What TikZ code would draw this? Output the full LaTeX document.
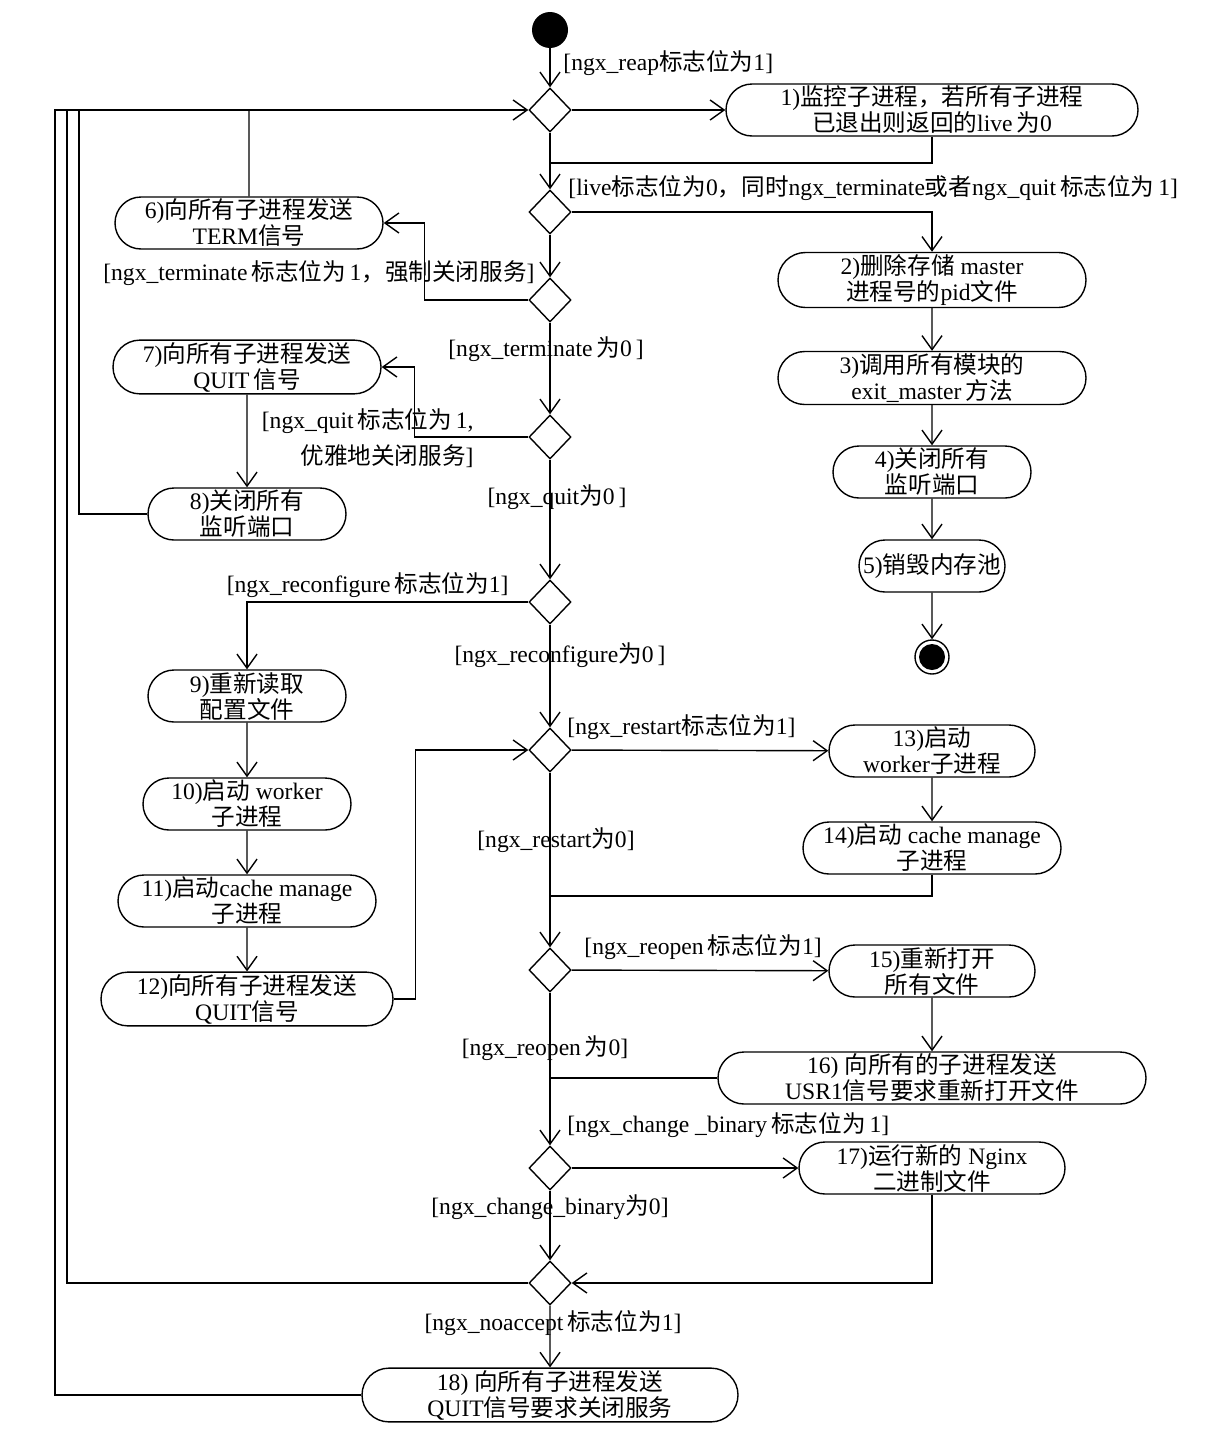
\documentclass[tikz,border=0pt]{standalone}
\usepackage{fontspec}
\setmainfont{Liberation Serif}
\newfontfamily\zhfont{Noto Sans CJK SC}
\newcommand{\zh}[1]{{\zhfont #1}}
\usetikzlibrary{arrows.meta,shapes.geometric,shapes.misc}

\begin{document}
\begin{tikzpicture}[
  x=0.5pt, y=-0.5pt,
  font=\fontsize{11.8}{13}\selectfont,
  >={Straight Barb[length=7pt,width=10pt]},
  act/.style={draw, rounded rectangle, minimum height=26pt, align=center, inner sep=1pt, line width=.7pt},
  choice/.style={draw, diamond, minimum width=21pt, minimum height=22pt, inner sep=0pt, line width=.7pt},
  startdot/.style={circle, fill=black, minimum size=18pt, inner sep=0pt},
  stopring/.style={circle, draw, line width=.7pt, minimum size=17pt, inner sep=0pt},
  flow/.style={->, line width=.7pt},
  link/.style={line width=.7pt},
  guard/.style={inner sep=1pt}
]
\useasboundingbox (0,0) rectangle (1214,1440);

% spine of decisions
\node[startdot] (start) at (550,30) {};
\foreach \n/\y in {d1/110,d2/212,d3/300,d4/437,d5/602,d6/750,d7/970,d8/1168,d9/1283}
  \node[choice] (\n) at (550,\y) {};

% right column
\node[act, minimum width=208pt] (n1) at (932,110) {1)\zh{监控子进程，若所有子进程}\\\zh{已退出则返回的}live\,\zh{为}0};
\node[act, minimum width=156pt] (n2) at (932,280) {2)\zh{删除存储} master\\\zh{进程号的}pid\zh{文件}};
\node[act, minimum width=156pt] (n3) at (932,378) {3)\zh{调用所有模块的}\\exit\_master\,\zh{方法}};
\node[act, minimum width=101pt] (n4) at (932,472) {4)\zh{关闭所有}\\\zh{监听端口}};
\node[act, minimum width=75pt] (n5) at (932,566) {5)\zh{销毁内存池}};
\node[stopring] (stop) at (932,657) {};
\node[startdot, minimum size=13pt] (stopdot) at (stop) {};
\node[act, minimum width=105pt] (n13) at (932,751) {13)\zh{启动}\\worker\zh{子进程}};
\node[act, minimum width=131pt] (n14) at (932,848) {14)\zh{启动} cache manage\\\zh{子进程}};
\node[act, minimum width=105pt] (n15) at (932,971) {15)\zh{重新打开}\\\zh{所有文件}};
\node[act, minimum width=216pt] (n16) at (932,1078) {16) \zh{向所有的子进程发送}\\USR1\zh{信号要求重新打开文件}};
\node[act, minimum width=135pt] (n17) at (932,1168) {17)\zh{运行新的} Nginx\\\zh{二进制文件}};

% left column
\node[act, minimum width=136pt] (n6) at (249,223) {6)\zh{向所有子进程发送}\\TERM\zh{信号}};
\node[act, minimum width=136pt] (n7) at (247,367) {7)\zh{向所有子进程发送}\\QUIT\,\zh{信号}};
\node[act, minimum width=101pt] (n8) at (247,514) {8)\zh{关闭所有}\\\zh{监听端口}};
\node[act, minimum width=101pt] (n9) at (247,696) {9)\zh{重新读取}\\\zh{配置文件}};
\node[act, minimum width=106pt] (n10) at (247,804) {10)\zh{启动} worker\\\zh{子进程}};
\node[act, minimum width=131pt] (n11) at (247,901) {11)\zh{启动}cache manage\\\zh{子进程}};
\node[act, minimum width=148pt] (n12) at (247,999) {12)\zh{向所有子进程发送}\\QUIT\zh{信号}};
\node[act, minimum width=190pt] (n18) at (550,1395) {18) \zh{向所有子进程发送}\\QUIT\zh{信号要求关闭服务}};

% guards
\node[guard, anchor=west] (g1) at (561,63) {[ngx\_reap\zh{标志位为}1]};
\node[guard, anchor=west] (g2) at (566,188) {[live\zh{标志位为}0\zh{，同时}ngx\_terminate\zh{或者}ngx\_quit\,\zh{标志位为}\,1]};
\node[guard, anchor=east] (g3) at (537,273) {[ngx\_terminate\,\zh{标志位为}\,1\zh{，强制关闭服务}]};
\node[guard] (g4) at (546,349) {[ngx\_terminate\,\zh{为}0\,]};
\node[guard, anchor=east, align=right] (g5) at (476,438) {[ngx\_quit\,\zh{标志位为}\,1,\\[5pt]\zh{优雅地关闭服务}]};
\node[guard] (g6) at (557,497) {[ngx\_quit\zh{为}0\,]};
\node[guard, anchor=east] (g7) at (511,585) {[ngx\_reconfigure\,\zh{标志位为}1]};
\node[guard] (g8) at (560,655) {[ngx\_reconfigure\zh{为}0\,]};
\node[guard, anchor=west] (g9) at (565,727) {[ngx\_restart\zh{标志位为}1]};
\node[guard] (g10) at (556,840) {[ngx\_restart\zh{为}0]};
\node[guard, anchor=west] (g11) at (582,947) {[ngx\_reopen\,\zh{标志位为}1]};
\node[guard] (g12) at (545,1048) {[ngx\_reopen\,\zh{为}0]};
\node[guard, anchor=west] (g13) at (565,1125) {[ngx\_change \_binary\,\zh{标志位为}\,1]};
\node[guard] (g14) at (550,1207) {[ngx\_change\_binary\zh{为}0]};
\node[guard] (g15) at (553,1323) {[ngx\_noaccept\,\zh{标志位为}1]};

% connectors
\foreach \a/\b in {start/d1,d1/n1,d1/d2,d2/d3,d3/d4,d4/d5,d5/d6,d6/d7,d7/d8,d8/d9,d9/n18,
  n2/n3,n3/n4,n4/n5,n5/stop,n7/n8,n9/n10,n10/n11,n11/n12,n13/n14,n15/n16,d6/n13,d7/n15,d8/n17}
  \draw[flow] (\a) -- (\b);
\draw[flow] (d2) -| (n2);
\draw[flow] (d5) -| (n9);
\draw[flow] (d3.west) -- ++(-104,0) |- (n6);
\draw[flow] (d4.west) -- ++(-114,0) |- (n7);
\draw[flow] (n12.east) -- ++(22,0) |- (d6);
\draw[flow] (n17) |- (d9);

\coordinate (j1) at (550,163);
\coordinate (j2) at (550,896);
\coordinate (j3) at (550,1078);
\draw[link] (n1) |- (j1);
\draw[link] (n14) |- (j2);
\draw[link] (n16) -- (j3);

% loops back to the first decision
\coordinate (rail) at (55,110);
\draw[flow] (n18) -| (rail) -- (d1);
\draw[link] (d9) -| (67,110);
\draw[link] (n8) -| (79,110);
\draw[link] (n6) -- (n6 |- rail);
\end{tikzpicture}
\end{document}
